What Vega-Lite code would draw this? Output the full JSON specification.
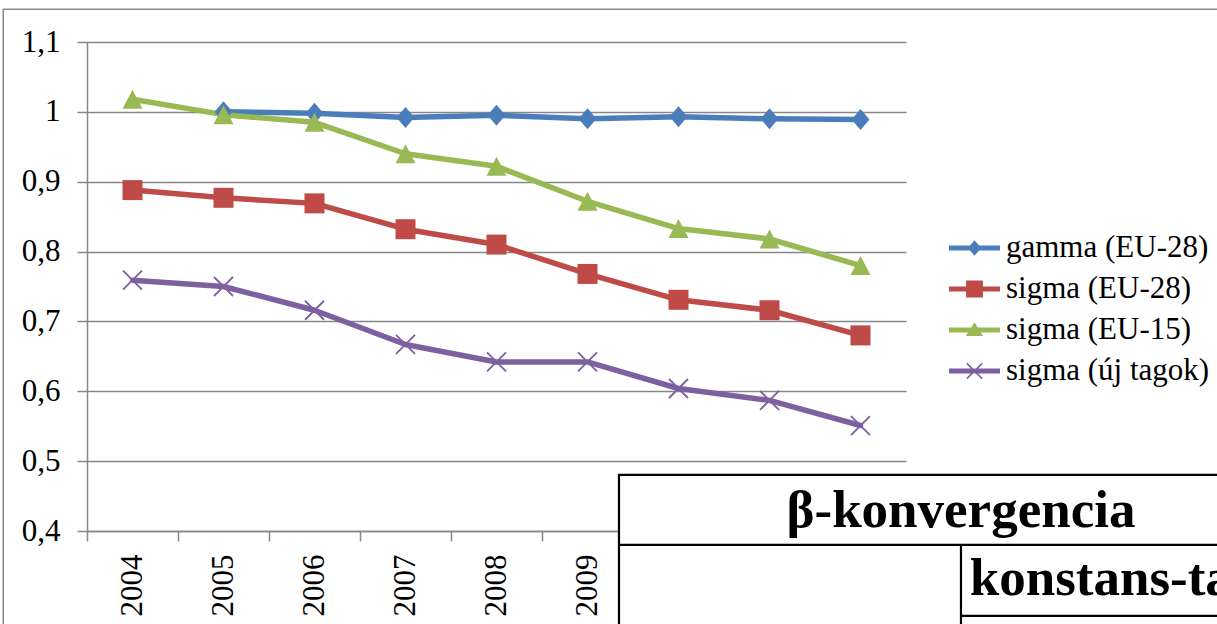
{
  "$schema": "https://vega.github.io/schema/vega-lite/v6.json",
  "autosize": {"type": "none"},
  "width": 819,
  "height": 489,
  "padding": {"left": 87, "top": 42, "right": 311, "bottom": 93},
  "background": "white",
  "config": {
    "view": {"stroke": null},
    "font": "Liberation Serif",
    "legend": {"labelFont": "Liberation Serif", "labelFontSize": 31, "labelColor": "#000000"},
    "axis": {"labelFont": "Liberation Serif", "labelFontSize": 31, "labelColor": "#000000"}
  },
  "datasets": {
    "convergence": [
      {"series": "gamma (EU-28)", "year": "2005", "value": 1.0},
      {"series": "gamma (EU-28)", "year": "2006", "value": 0.998},
      {"series": "gamma (EU-28)", "year": "2007", "value": 0.992},
      {"series": "gamma (EU-28)", "year": "2008", "value": 0.995},
      {"series": "gamma (EU-28)", "year": "2009", "value": 0.990},
      {"series": "gamma (EU-28)", "year": "2010", "value": 0.993},
      {"series": "gamma (EU-28)", "year": "2011", "value": 0.990},
      {"series": "gamma (EU-28)", "year": "2012", "value": 0.989},
      {"series": "sigma (EU-28)", "year": "2004", "value": 0.888},
      {"series": "sigma (EU-28)", "year": "2005", "value": 0.877},
      {"series": "sigma (EU-28)", "year": "2006", "value": 0.869},
      {"series": "sigma (EU-28)", "year": "2007", "value": 0.832},
      {"series": "sigma (EU-28)", "year": "2008", "value": 0.810},
      {"series": "sigma (EU-28)", "year": "2009", "value": 0.768},
      {"series": "sigma (EU-28)", "year": "2010", "value": 0.731},
      {"series": "sigma (EU-28)", "year": "2011", "value": 0.716},
      {"series": "sigma (EU-28)", "year": "2012", "value": 0.680},
      {"series": "sigma (EU-15)", "year": "2004", "value": 1.018},
      {"series": "sigma (EU-15)", "year": "2005", "value": 0.996},
      {"series": "sigma (EU-15)", "year": "2006", "value": 0.985},
      {"series": "sigma (EU-15)", "year": "2007", "value": 0.940},
      {"series": "sigma (EU-15)", "year": "2008", "value": 0.922},
      {"series": "sigma (EU-15)", "year": "2009", "value": 0.872},
      {"series": "sigma (EU-15)", "year": "2010", "value": 0.833},
      {"series": "sigma (EU-15)", "year": "2011", "value": 0.818},
      {"series": "sigma (EU-15)", "year": "2012", "value": 0.780},
      {"series": "sigma (új tagok)", "year": "2004", "value": 0.759},
      {"series": "sigma (új tagok)", "year": "2005", "value": 0.750},
      {"series": "sigma (új tagok)", "year": "2006", "value": 0.716},
      {"series": "sigma (új tagok)", "year": "2007", "value": 0.667},
      {"series": "sigma (új tagok)", "year": "2008", "value": 0.642},
      {"series": "sigma (új tagok)", "year": "2009", "value": 0.642},
      {"series": "sigma (új tagok)", "year": "2010", "value": 0.604},
      {"series": "sigma (új tagok)", "year": "2011", "value": 0.587},
      {"series": "sigma (új tagok)", "year": "2012", "value": 0.551}
    ]
  },
  "resolve": {
    "scale": {"x": "independent", "y": "independent"},
    "axis": {"x": "independent", "y": "independent"}
  },
  "layer": [
    {
      "data": {"name": "convergence"},
      "encoding": {
        "x": {
          "field": "year",
          "type": "ordinal",
          "scale": {
            "type": "band",
            "domain": ["2004", "2005", "2006", "2007", "2008", "2009", "2010", "2011", "2012"],
            "paddingInner": 0,
            "paddingOuter": 0
          },
          "axis": {
            "title": null,
            "tickBand": "extent",
            "grid": false,
            "domainColor": "#878787",
            "domainWidth": 1.5,
            "tickColor": "#878787",
            "tickWidth": 1.5,
            "tickSize": 10,
            "labelAngle": 270,
            "labelAlign": "right",
            "labelBaseline": "middle",
            "labelPadding": 13,
            "labelFont": "Liberation Serif",
            "labelFontSize": 31,
            "labelColor": "#000000"
          }
        },
        "y": {
          "field": "value",
          "type": "quantitative",
          "scale": {"domain": [0.4, 1.1], "nice": false, "zero": false},
          "axis": {
            "title": null,
            "orient": "left",
            "values": [0.4, 0.5, 0.6, 0.7, 0.8, 0.9, 1.0, 1.1],
            "labelExpr": "replace(format(datum.value, '.2~f'), '.', ',')",
            "grid": true,
            "gridColor": "#878787",
            "gridWidth": 1.5,
            "domain": true,
            "domainColor": "#878787",
            "domainWidth": 1.5,
            "ticks": true,
            "tickColor": "#878787",
            "tickWidth": 1.5,
            "tickSize": 10,
            "labelPadding": 17,
            "labelFont": "Liberation Serif",
            "labelFontSize": 31,
            "labelColor": "#000000"
          }
        }
      },
      "layer": [
        {
          "mark": {"type": "line", "strokeWidth": 5.5, "strokeJoin": "round", "strokeCap": "round"},
          "encoding": {
            "color": {
              "field": "series",
              "type": "nominal",
              "scale": {
                "domain": ["gamma (EU-28)", "sigma (EU-28)", "sigma (EU-15)", "sigma (új tagok)"],
                "range": ["#4A7EBB", "#BE4B48", "#98B954", "#7D60A0"]
              },
              "legend": {
                "title": null,
                "orient": "none",
                "legendX": 862,
                "legendY": 180.5,
                "padding": 0,
                "rowPadding": 0,
                "symbolSize": 2601,
                "labelOffset": 6,
                "labelFont": "Liberation Serif",
                "labelFontSize": 31,
                "labelColor": "#000000",
                "labelLimit": 0,
                "encode": {
                  "symbols": {
                    "update": {
                      "shape": {"signal": "datum.value === 'gamma (EU-28)' ? 'M-1,-0.1L1,-0.1L1,0.1L-1,0.1Z M0,-0.3L0.26,0L0,0.3L-0.26,0Z' : datum.value === 'sigma (EU-28)' ? 'M-1,-0.1L1,-0.1L1,0.1L-1,0.1Z M-0.33,-0.33L0.33,-0.33L0.33,0.33L-0.33,0.33Z' : datum.value === 'sigma (EU-15)' ? 'M-1,-0.1L1,-0.1L1,0.1L-1,0.1Z M0,-0.3L0.34,0.24L-0.34,0.24Z' : 'M-1,-0.1L1,-0.1L1,0.1L-1,0.1Z M-0.279,-0.321L0.321,0.279L0.279,0.321L-0.321,-0.279Z M-0.321,0.279L0.279,-0.321L0.321,-0.279L-0.279,0.321Z'"},
                      "fill": {"signal": "scale('color', datum.value)"},
                      "fillOpacity": {"value": 1},
                      "strokeWidth": {"value": 0},
                      "opacity": {"value": 1}
                    }
                  }
                }
              }
            }
          }
        },
        {
          "transform": [{"filter": "datum.series !== 'sigma (új tagok)'"}],
          "mark": {"type": "point", "filled": true, "opacity": 1, "size": 400},
          "encoding": {
            "color": {"field": "series", "type": "nominal", "legend": null},
            "shape": {
              "field": "series",
              "type": "nominal",
              "scale": {
                "domain": ["gamma (EU-28)", "sigma (EU-28)", "sigma (EU-15)"],
                "range": ["M0,-1.05L0.9,0L0,1.05L-0.9,0Z", "square", "M0,-0.95L1,0.95L-1,0.95Z"]
              },
              "legend": null
            }
          }
        },
        {
          "transform": [{"filter": "datum.series === 'sigma (új tagok)'"}],
          "mark": {"type": "point", "filled": false, "opacity": 1, "size": 361, "strokeWidth": 1.8, "shape": "M-1,-1L1,1M-1,1L1,-1"},
          "encoding": {
            "color": {"field": "series", "type": "nominal", "legend": null}
          }
        }
      ]
    },
    {
      "data": {"values": [{}]},
      "encoding": {},
      "layer": [
        {
          "mark": {"type": "rect", "fill": null, "stroke": "#898989", "strokeWidth": 1.5},
          "encoding": {
            "x": {"datum": 2002.58, "type": "quantitative", "scale": {"domain": [2003.5, 2012.5], "nice": false, "zero": false}, "axis": null},
            "x2": {"datum": 2017},
            "y": {"datum": 1.147, "type": "quantitative", "scale": {"domain": [0.4, 1.1], "nice": false, "zero": false}, "axis": null},
            "y2": {"datum": 0.2}
          }
        },
        {
          "mark": {"type": "rect", "fill": "white", "stroke": "black", "strokeWidth": 2.2},
          "encoding": {
            "x": {"datum": 2009.346, "type": "quantitative", "scale": {"domain": [2003.5, 2012.5], "nice": false, "zero": false}, "axis": null},
            "x2": {"datum": 2017},
            "y": {"datum": 0.4802, "type": "quantitative", "scale": {"domain": [0.4, 1.1], "nice": false, "zero": false}, "axis": null},
            "y2": {"datum": 0.2}
          }
        },
        {
          "mark": {"type": "rule", "stroke": "black", "strokeWidth": 2.2},
          "encoding": {
            "x": {"datum": 2009.346, "type": "quantitative", "scale": {"domain": [2003.5, 2012.5], "nice": false, "zero": false}, "axis": null},
            "x2": {"datum": 2017},
            "y": {"datum": 0.38, "type": "quantitative", "scale": {"domain": [0.4, 1.1], "nice": false, "zero": false}, "axis": null}
          }
        },
        {
          "mark": {"type": "rule", "stroke": "black", "strokeWidth": 2.2},
          "encoding": {
            "x": {"datum": 2013.104, "type": "quantitative", "scale": {"domain": [2003.5, 2012.5], "nice": false, "zero": false}, "axis": null},
            "y": {"datum": 0.38, "type": "quantitative", "scale": {"domain": [0.4, 1.1], "nice": false, "zero": false}, "axis": null},
            "y2": {"datum": 0.2}
          }
        },
        {
          "mark": {"type": "rule", "stroke": "black", "strokeWidth": 2.2},
          "encoding": {
            "x": {"datum": 2013.104, "type": "quantitative", "scale": {"domain": [2003.5, 2012.5], "nice": false, "zero": false}, "axis": null},
            "x2": {"datum": 2017},
            "y": {"datum": 0.2784, "type": "quantitative", "scale": {"domain": [0.4, 1.1], "nice": false, "zero": false}, "axis": null}
          }
        },
        {
          "mark": {"type": "text", "font": "Liberation Serif", "fontWeight": "bold", "fontSize": 53, "align": "center", "baseline": "alphabetic", "color": "black"},
          "encoding": {
            "x": {"datum": 2013.104, "type": "quantitative", "scale": {"domain": [2003.5, 2012.5], "nice": false, "zero": false}, "axis": null},
            "y": {"datum": 0.4058, "type": "quantitative", "scale": {"domain": [0.4, 1.1], "nice": false, "zero": false}, "axis": null},
            "text": {"value": "β-konvergencia"}
          }
        },
        {
          "mark": {"type": "text", "font": "Liberation Serif", "fontWeight": "bold", "fontSize": 53, "align": "left", "baseline": "alphabetic", "color": "black"},
          "encoding": {
            "x": {"datum": 2013.2, "type": "quantitative", "scale": {"domain": [2003.5, 2012.5], "nice": false, "zero": false}, "axis": null},
            "y": {"datum": 0.3084, "type": "quantitative", "scale": {"domain": [0.4, 1.1], "nice": false, "zero": false}, "axis": null},
            "text": {"value": "konstans-tagos"}
          }
        }
      ]
    }
  ]
}
